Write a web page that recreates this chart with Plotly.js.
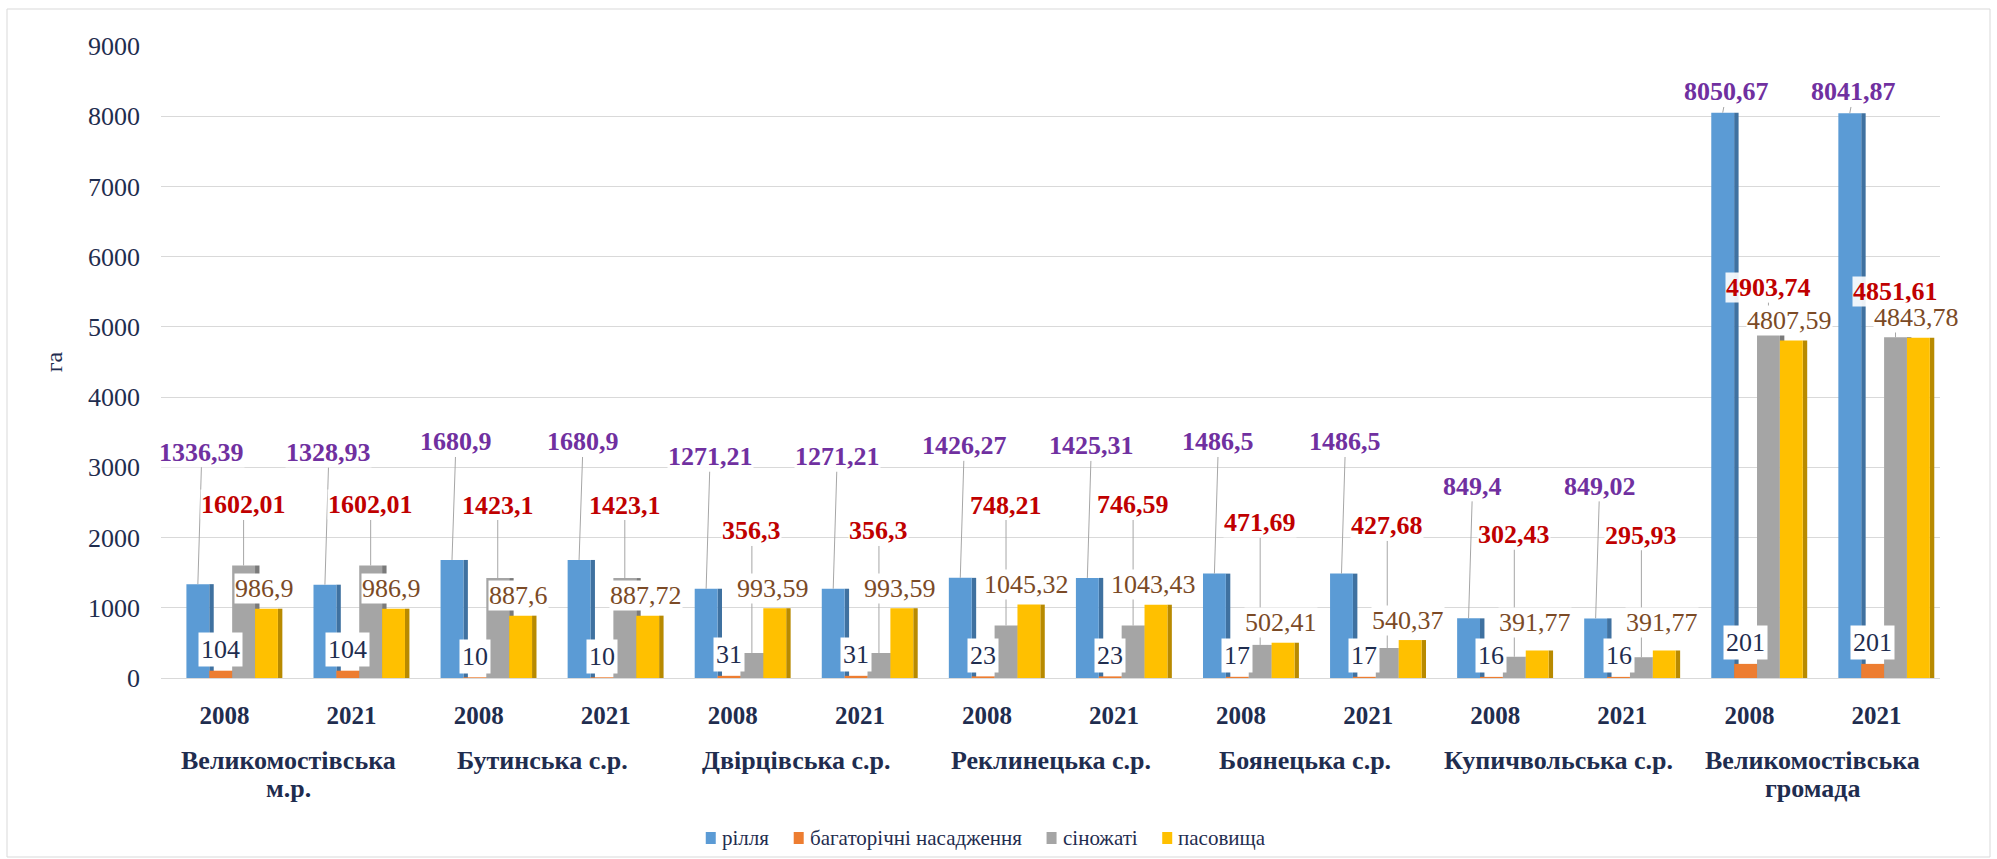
<!DOCTYPE html>
<html>
<head>
<meta charset="utf-8">
<script src="https://cdn.plot.ly/plotly-3.0.1.min.js"></script>
<style>html,body{margin:0;padding:0;background:#fff;}#chart{width:1997px;height:859px;}</style>
</head>
<body>
<div id="chart"></div>
<script>
// ---- data ----
const groups = ['Великомостівська<br>м.р.', 'Бутинська с.р.', 'Двірцівська с.р.', 'Реклинецька с.р.', 'Боянецька с.р.', 'Купичвольська с.р.', 'Великомостівська<br>громада'];
const years = ['2008', '2021'];
const seriesNames = ['рілля', 'багаторічні насадження', 'сіножаті', 'пасовища'];
const rillia = [1336.39, 1328.93, 1680.9, 1680.9, 1271.21, 1271.21, 1426.27, 1425.31, 1486.5, 1486.5, 849.4, 849.02, 8050.67, 8041.87];
const bagatorichni = [104, 104, 10, 10, 31, 31, 23, 23, 17, 17, 16, 16, 201, 201];
const sinozhati = [1602.01, 1602.01, 1423.1, 1423.1, 356.3, 356.3, 748.21, 746.59, 471.69, 427.68, 302.43, 295.93, 4903.74, 4851.61];
const pasovyshcha = [986.9, 986.9, 887.6, 887.72, 993.59, 993.59, 1045.32, 1043.43, 502.41, 540.37, 391.77, 391.77, 4807.59, 4843.78];

// ---- styling ----
const W = 1997, H = 859;
const M = {l: 161, r: 57, t: 46, b: 181};
const YMAX = 9000;
const frontColors = ['#5b9bd5', '#ed7d31', '#a5a5a5', '#ffc000'];
const sideColors = ['#3f71a0', '#b05b22', '#7a7a7a', '#b88a00'];
const labelColors = ['#7030a0', '#c00000', '#7b4a26', '#1f2d4f'];
const navy = '#1f2d4f';
const FONT = 'Liberation Serif, DejaVu Serif, serif';
const START = -0.30, FW = 0.18, DEPTH = 0.035;

// category keys: one per (group, year)
const xKeys = [], xTickText = [];
groups.forEach(g => years.forEach(y => {
  xKeys.push(g.replace('<br>', ' ') + ' ' + y);
  xTickText.push(y);
}));
const allSeries = [rillia, bagatorichni, sinozhati, pasovyshcha];

const traces = [];
allSeries.forEach((vals, k) => {
  const off = START + k * FW;
  traces.push({
    type: 'bar', x: xKeys, y: vals, offset: off + FW, width: DEPTH,
    marker: {color: sideColors[k]}, showlegend: false, hoverinfo: 'skip'
  });
  traces.push({
    type: 'bar', x: xKeys, y: vals, offset: off, width: FW, name: seriesNames[k],
    marker: {color: frontColors[k]}, showlegend: false
  });
});

// pixel helpers from the axis scale
const plotW = W - M.l - M.r;
const plotH = H - M.t - M.b;
const pxPer = plotH / YMAX;
const baseY = H - M.b;
const topPx = v => baseY - v * pxPer;
const pxToPaperX = px => (px - M.l) / plotW;
const pxToPaperY = py => (baseY - py) / plotH;
const fmt = v => String(v).replace('.', ',');

const annotations = [];
const shapes = [];
const n = rillia.length;
for (let i = 0; i < n; i++) {
  // рілля (purple, leader line)
  {
    const v = rillia[i], t = topPx(v);
    const ly = (t - 132 < 92) ? 92 : Math.max(442, t - 132);
    annotations.push({x: i + START + FW / 2, y: v, xref: 'x', yref: 'y', text: '<b>' + fmt(v) + '</b>',
      showarrow: true, arrowhead: 0, arrowwidth: 1, arrowcolor: '#a6a6a6', ax: 4, ay: ly - t,
      font: {family: FONT, size: 26, color: labelColors[0]}, bgcolor: 'rgba(255,255,255,0.9)', borderpad: 0});
  }
  // сіножаті (red, leader line)
  {
    const v = sinozhati[i], t = topPx(v);
    const ly = Math.min(t - 46, Math.max(505, t - 122));
    annotations.push({x: i + START + 2.5 * FW, y: v, xref: 'x', yref: 'y', text: '<b>' + fmt(v) + '</b>',
      showarrow: true, arrowhead: 0, arrowwidth: 1, arrowcolor: '#a6a6a6', ax: 0, ay: ly - t,
      font: {family: FONT, size: 26, color: labelColors[1]}, bgcolor: 'rgba(255,255,255,0.9)', borderpad: 0});
  }
  // багаторічні насадження (white box just above the short bar)
  const boxCenter = topPx(bagatorichni[i]) - 21;
  annotations.push({x: i + START + 1.5 * FW, y: bagatorichni[i], xref: 'x', yref: 'y', text: fmt(bagatorichni[i]),
    showarrow: false, yanchor: 'middle', yshift: 21,
    font: {family: FONT, size: 26, color: labelColors[3]}, bgcolor: '#ffffff', borderpad: 2});
  // пасовища (brown, kept clear of the white box)
  {
    const v = pasovyshcha[i], t = topPx(v);
    const cy = Math.min(t - 20, boxCenter - 17 - 16);
    annotations.push({x: i + START + 3.5 * FW, y: v, xref: 'x', yref: 'y', text: fmt(v),
      showarrow: false, yanchor: 'middle', yshift: t - cy, xshift: -2,
      font: {family: FONT, size: 26, color: labelColors[2]}, bgcolor: '#ffffff', borderpad: 0});
  }
}
// group (outer category) labels under the year labels, one annotation per line
groups.forEach((g, gi) => {
  g.split('<br>').forEach((line, li) => {
    annotations.push({x: 2 * gi + 0.5, y: pxToPaperY(760 + li * 28), xref: 'x', yref: 'paper',
      text: '<b>' + line + '</b>', showarrow: false, yanchor: 'middle', xanchor: 'center',
      font: {family: FONT, size: 26, color: navy}});
  });
});

// legend row (swatch + serif label), centred under the plot
{
  const ctx = document.createElement('canvas').getContext('2d');
  ctx.font = '21px "Liberation Serif", "DejaVu Serif", serif';
  const sw = 10, sh = 12, gapIn = 5, gapOut = 26, cy = 838, cx = 985;
  const widths = seriesNames.map(s => ctx.measureText(s).width);
  const total = widths.reduce((a, w) => a + sw + gapIn + w, 0) + gapOut * (seriesNames.length - 1);
  let xp = cx - total / 2;
  seriesNames.forEach((s, k) => {
    shapes.push({type: 'rect', xref: 'paper', yref: 'paper',
      x0: pxToPaperX(xp), x1: pxToPaperX(xp + sw), y0: pxToPaperY(cy + sh / 2), y1: pxToPaperY(cy - sh / 2),
      line: {width: 0}, fillcolor: frontColors[k]});
    annotations.push({x: pxToPaperX(xp + sw + gapIn), y: pxToPaperY(cy), xref: 'paper', yref: 'paper',
      text: s, showarrow: false, xanchor: 'left', yanchor: 'middle', borderpad: 0,
      font: {family: FONT, size: 21, color: navy}});
    xp += sw + gapIn + widths[k] + gapOut;
  });
}

// thin frame around the whole chart
shapes.push({type: 'rect', xref: 'paper', yref: 'paper',
  x0: pxToPaperX(7), x1: pxToPaperX(1990), y0: pxToPaperY(857), y1: pxToPaperY(9),
  line: {color: '#d9d9d9', width: 1}, fillcolor: 'rgba(0,0,0,0)', layer: 'below'});

const layout = {
  width: W, height: H,
  margin: M,
  paper_bgcolor: '#ffffff', plot_bgcolor: '#ffffff',
  barmode: 'overlay',
  font: {family: FONT, color: navy},
  showlegend: false,
  xaxis: {
    type: 'category', tickmode: 'array', tickvals: xKeys, ticktext: xTickText,
    range: [-0.5, xKeys.length - 0.5],
    showgrid: false, zeroline: false, showline: false, ticks: '', ticklabelstandoff: 20,
    tickfont: {family: FONT, size: 25, color: navy, weight: 'bold'}
  },
  yaxis: {
    range: [0, YMAX], dtick: 1000, tick0: 0, showgrid: true, gridcolor: '#d9d9d9', gridwidth: 1,
    zeroline: true, zerolinecolor: '#d9d9d9', zerolinewidth: 1, showline: false, ticks: '',
    ticklabelstandoff: 20,
    tickfont: {family: FONT, size: 26, color: navy},
    title: {text: 'га', font: {family: FONT, size: 24, color: navy}, standoff: 18}
  },
  annotations: annotations,
  shapes: shapes
};

Plotly.newPlot('chart', traces, layout, {displayModeBar: false, staticPlot: true});
</script>
</body>
</html>
